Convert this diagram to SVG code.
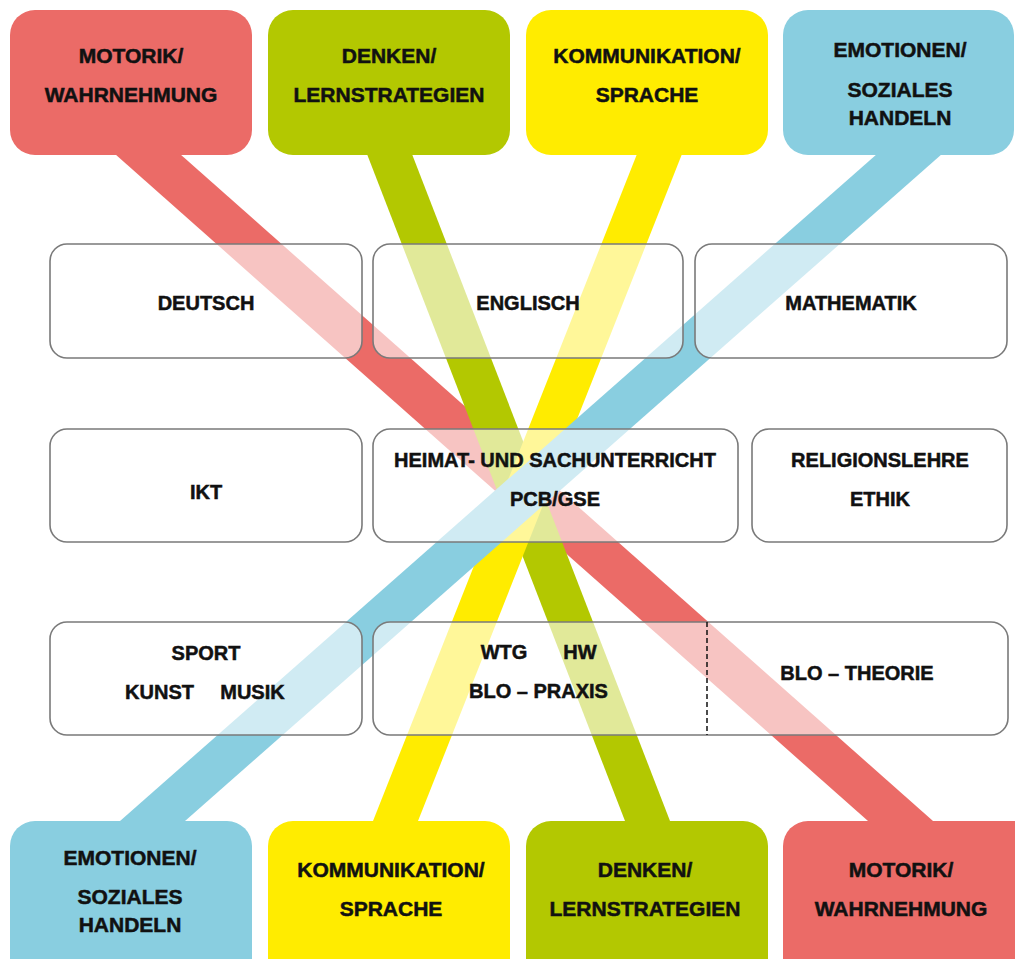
<svg xmlns="http://www.w3.org/2000/svg" width="1015" height="959" viewBox="0 0 1015 959">
<defs>
<style>
.red{fill:#EB6B67}
.green{fill:#B3C801}
.yellow{fill:#FFEC00}
.blue{fill:#89CEE0}
.cbox{stroke:none}
.wbox{fill:#ffffff;fill-opacity:0.6;stroke:#7a7a7a;stroke-width:1.6}
text{font-family:"Liberation Sans",Arial,sans-serif;font-weight:bold;font-size:21px;fill:#111;stroke:#111;stroke-width:0.5;text-anchor:middle}
.s{font-size:20px}
</style>
</defs>
<rect width="1015" height="959" fill="#ffffff"/>
<g id="connectors">
<polygon class="red" points="87.9,130 152.9,130 960.1,845 895.1,845"/>
<polygon class="green" points="357.7,130 402.7,130 679.3,845 634.3,845"/>
<polygon class="yellow" points="646.5,130 691.5,130 408.5,845 363.5,845"/>
<polygon class="blue" points="904.2,130 969.2,130 157.8,845 92.8,845"/>
</g>
<g id="top-motorik">
<rect class="cbox red" x="10" y="10" width="242" height="145" rx="25"/>
<text x="131" y="63">MOTORIK/</text>
<text x="131" y="102">WAHRNEHMUNG</text>
</g>
<g id="top-denken">
<rect class="cbox green" x="268" y="10" width="242" height="145" rx="25"/>
<text x="389" y="63">DENKEN/</text>
<text x="389" y="102">LERNSTRATEGIEN</text>
</g>
<g id="top-kommunikation">
<rect class="cbox yellow" x="526" y="10" width="242" height="145" rx="25"/>
<text x="647" y="63">KOMMUNIKATION/</text>
<text x="647" y="102">SPRACHE</text>
</g>
<g id="top-emotionen">
<rect class="cbox blue" x="783" y="10" width="231" height="145" rx="25"/>
<text x="900" y="57">EMOTIONEN/</text>
<text x="900" y="97">SOZIALES</text>
<text x="900" y="125">HANDELN</text>
</g>
<g id="bottom-emotionen">
<rect class="cbox blue" x="10" y="821" width="242" height="170" rx="25"/>
<text x="130" y="865">EMOTIONEN/</text>
<text x="130" y="904">SOZIALES</text>
<text x="130" y="932">HANDELN</text>
</g>
<g id="bottom-kommunikation">
<rect class="cbox yellow" x="268" y="821" width="242" height="170" rx="25"/>
<text x="391" y="877">KOMMUNIKATION/</text>
<text x="391" y="916">SPRACHE</text>
</g>
<g id="bottom-denken">
<rect class="cbox green" x="526" y="821" width="242" height="170" rx="25"/>
<text x="645" y="877">DENKEN/</text>
<text x="645" y="916">LERNSTRATEGIEN</text>
</g>
<g id="bottom-motorik">
<rect class="cbox red" x="783" y="821" width="260" height="170" rx="25"/>
<text x="901" y="877">MOTORIK/</text>
<text x="901" y="916">WAHRNEHMUNG</text>
</g>
<g id="deutsch">
<rect class="wbox" x="50" y="244" width="312" height="114" rx="17"/>
<text class="s" x="206" y="310">DEUTSCH</text>
</g>
<g id="englisch">
<rect class="wbox" x="373" y="244" width="310" height="114" rx="17"/>
<text class="s" x="528" y="310">ENGLISCH</text>
</g>
<g id="mathematik">
<rect class="wbox" x="695" y="244" width="312" height="114" rx="17"/>
<text class="s" x="851" y="310">MATHEMATIK</text>
</g>
<g id="ikt">
<rect class="wbox" x="50" y="429" width="312" height="113" rx="17"/>
<text class="s" x="206" y="499">IKT</text>
</g>
<g id="heimat">
<rect class="wbox" x="373" y="429" width="365" height="113" rx="17"/>
<text class="s" x="555" y="467">HEIMAT- UND SACHUNTERRICHT</text>
<text class="s" x="555" y="506">PCB/GSE</text>
</g>
<g id="religion">
<rect class="wbox" x="752" y="429" width="255" height="113" rx="17"/>
<text class="s" x="880" y="467">RELIGIONSLEHRE</text>
<text class="s" x="880" y="506">ETHIK</text>
</g>
<g id="sport">
<rect class="wbox" x="50" y="622" width="312" height="113" rx="17"/>
<text class="s" x="206" y="660">SPORT</text>
<text class="s" x="159.5" y="699">KUNST</text>
<text class="s" x="252.5" y="699">MUSIK</text>
</g>
<g id="blo">
<rect class="wbox" x="373" y="622" width="635" height="113" rx="17"/>
<line x1="707" y1="622" x2="707" y2="735" stroke="#111" stroke-width="1.5" stroke-dasharray="5,3"/>
<text class="s" x="504" y="659">WTG</text>
<text class="s" x="580" y="659">HW</text>
<text class="s" x="538.5" y="698">BLO – PRAXIS</text>
<text class="s" x="857" y="680">BLO – THEORIE</text>
</g>
</svg>
